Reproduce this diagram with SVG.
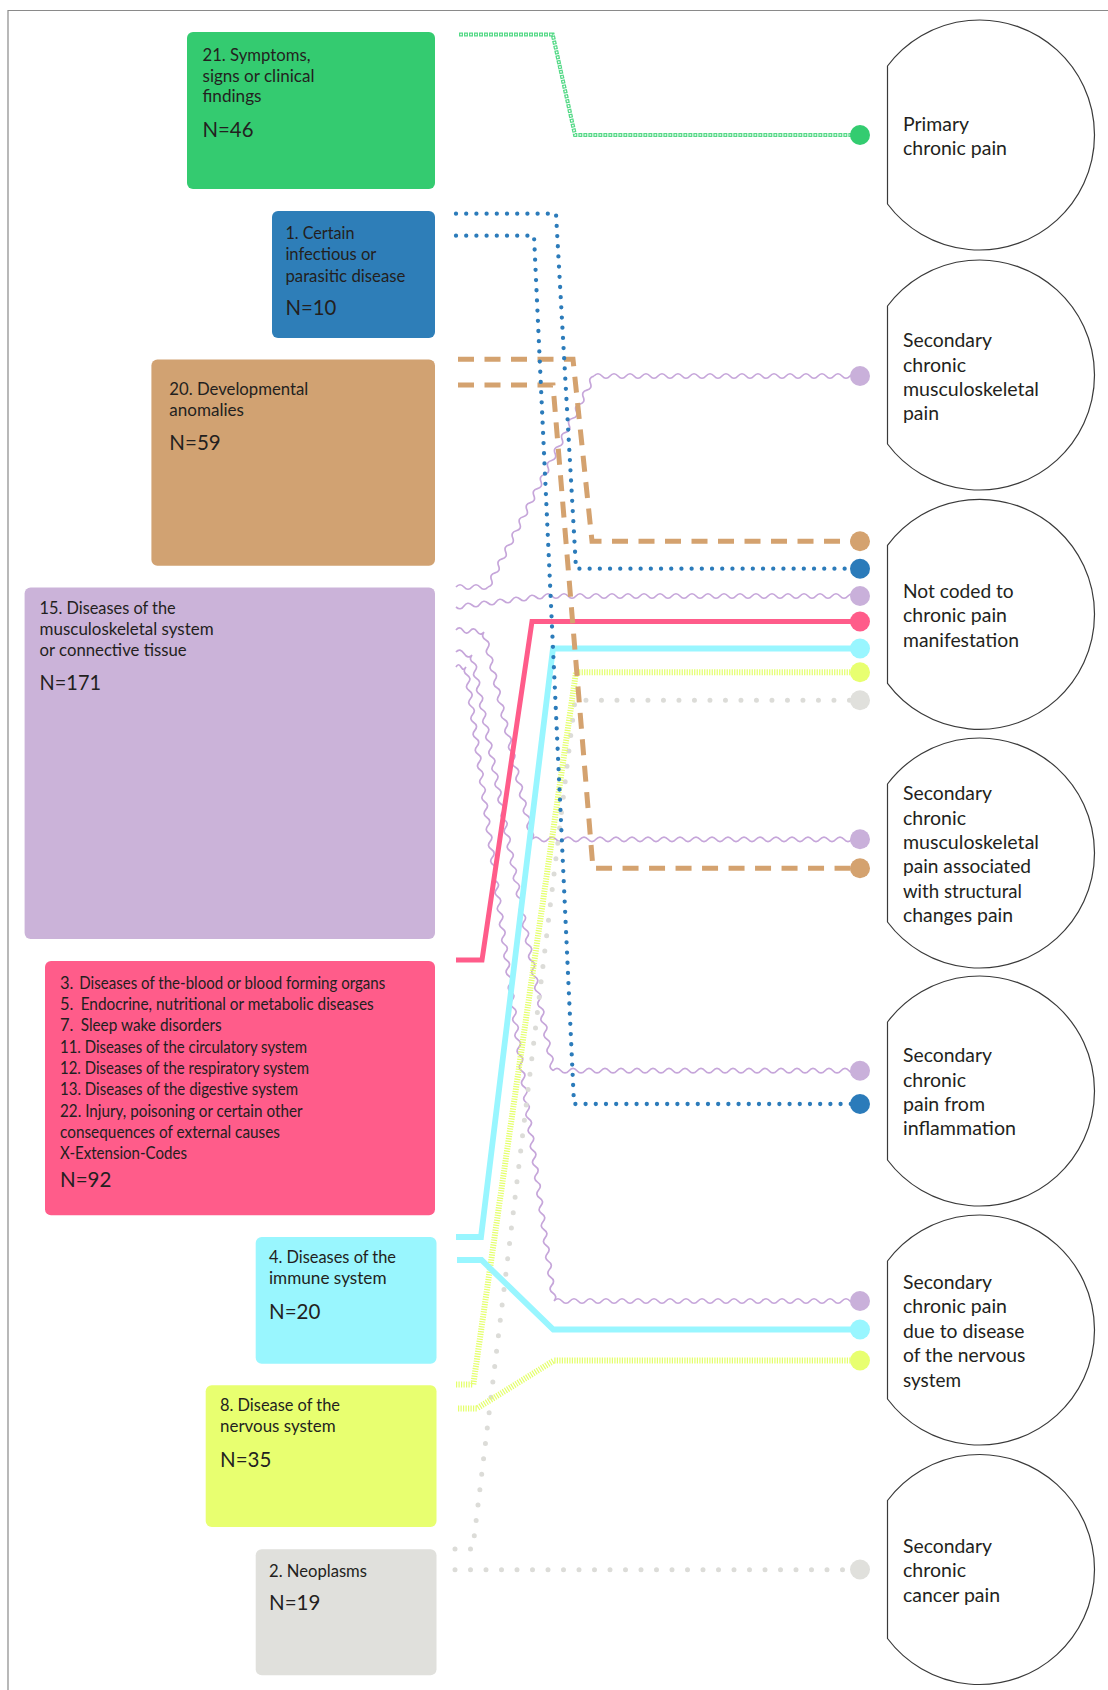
<svg xmlns="http://www.w3.org/2000/svg" width="1108" height="1690" viewBox="0 0 1108 1690">
<style>
.t{font-family:Lato,'Liberation Sans',sans-serif;font-size:17px;fill:#231f20}
.n{font-size:21px}
.r{font-size:16.5px}
.ct{font-size:18.5px}
.circ{fill:#fff;stroke:#3a3a3a;stroke-width:1.2}
.wave{fill:none;stroke:#c6a6da;stroke-width:1.7}
.dot{stroke:none}
</style>
<defs>
<path id="gl" d="M459,34.5H552.7L575,135H858"/>
</defs>
<rect width="1108" height="1690" fill="#fff"/>
<path d="M8,1690V10.5H1108" fill="none" stroke="#8a8a8a" stroke-width="1.2"/>

<g id="n21"><rect x="187" y="32" width="248" height="157" rx="6" fill="#34cb70"/>
<text class="t" x="202.5" y="60.7" textLength="108" lengthAdjust="spacingAndGlyphs">21. Symptoms,</text>
<text class="t" x="202.5" y="81.7" textLength="112" lengthAdjust="spacingAndGlyphs">signs or clinical</text>
<text class="t" x="202.5" y="102.3" textLength="59" lengthAdjust="spacingAndGlyphs">findings</text>
<text class="t n" x="202.5" y="136.7" textLength="51" lengthAdjust="spacingAndGlyphs">N=46</text></g>

<g id="n1"><rect x="272" y="211" width="163" height="127" rx="6" fill="#2e7eb8"/>
<text class="t" x="285.4" y="239" textLength="69" lengthAdjust="spacingAndGlyphs">1. Certain</text>
<text class="t" x="285.4" y="260" textLength="91" lengthAdjust="spacingAndGlyphs">infectious or</text>
<text class="t" x="285.4" y="281.7" textLength="120" lengthAdjust="spacingAndGlyphs">parasitic disease</text>
<text class="t n" x="285.4" y="315" textLength="51" lengthAdjust="spacingAndGlyphs">N=10</text></g>

<g id="n20"><rect x="151.4" y="359.5" width="283.6" height="206.3" rx="6" fill="#d1a272"/>
<text class="t" x="169.3" y="394.7" textLength="139" lengthAdjust="spacingAndGlyphs">20. Developmental</text>
<text class="t" x="169.3" y="415.8" textLength="74.6" lengthAdjust="spacingAndGlyphs">anomalies</text>
<text class="t n" x="169.3" y="450.2" textLength="51.4" lengthAdjust="spacingAndGlyphs">N=59</text></g>

<g id="n15"><rect x="24.6" y="587.6" width="410.4" height="351.3" rx="6" fill="#cbb3d9"/>
<text class="t" x="39.6" y="613.6" textLength="136" lengthAdjust="spacingAndGlyphs">15. Diseases of the</text>
<text class="t" x="39.6" y="634.7" textLength="174" lengthAdjust="spacingAndGlyphs">musculoskeletal system</text>
<text class="t" x="39.6" y="656" textLength="147" lengthAdjust="spacingAndGlyphs">or connective tissue</text>
<text class="t n" x="39.6" y="690" textLength="61.4" lengthAdjust="spacingAndGlyphs">N=171</text></g>

<g id="nmisc"><rect x="45" y="961" width="390" height="254.3" rx="6" fill="#ff5c8a"/>
<text class="t r" x="60" y="989">3.</text>
<text class="t r" x="79.3" y="989" textLength="306" lengthAdjust="spacingAndGlyphs">Diseases of the-blood or blood forming organs</text>
<text class="t r" x="60" y="1010">5.</text>
<text class="t r" x="80.7" y="1010" textLength="293" lengthAdjust="spacingAndGlyphs">Endocrine, nutritional or metabolic diseases</text>
<text class="t r" x="60" y="1031">7.</text>
<text class="t r" x="80.7" y="1031" textLength="141" lengthAdjust="spacingAndGlyphs">Sleep wake disorders</text>
<text class="t r" x="60" y="1052.7" textLength="247" lengthAdjust="spacingAndGlyphs">11. Diseases of the circulatory system</text>
<text class="t r" x="60" y="1074" textLength="249" lengthAdjust="spacingAndGlyphs">12. Diseases of the respiratory system</text>
<text class="t r" x="60" y="1095" textLength="238" lengthAdjust="spacingAndGlyphs">13. Diseases of the digestive system</text>
<text class="t r" x="60" y="1116.7" textLength="242.5" lengthAdjust="spacingAndGlyphs">22. Injury, poisoning or certain other</text>
<text class="t r" x="60" y="1138" textLength="220" lengthAdjust="spacingAndGlyphs">consequences of external causes</text>
<text class="t r" x="60" y="1159.3" textLength="127" lengthAdjust="spacingAndGlyphs">X-Extension-Codes</text>
<text class="t n" x="60" y="1186.7" textLength="51.4" lengthAdjust="spacingAndGlyphs">N=92</text></g>

<g id="n4"><rect x="255.7" y="1237" width="180.8" height="126.7" rx="6" fill="#99f6fe"/>
<text class="t" x="269" y="1263.3" textLength="127" lengthAdjust="spacingAndGlyphs">4. Diseases of the</text>
<text class="t" x="269" y="1284.3" textLength="117.5" lengthAdjust="spacingAndGlyphs">immune system</text>
<text class="t n" x="269" y="1319" textLength="51.4" lengthAdjust="spacingAndGlyphs">N=20</text></g>

<g id="n8"><rect x="205.7" y="1385.3" width="230.8" height="141.7" rx="6" fill="#e8ff70"/>
<text class="t" x="220" y="1411" textLength="120" lengthAdjust="spacingAndGlyphs">8. Disease of the</text>
<text class="t" x="220" y="1432.3" textLength="115.7" lengthAdjust="spacingAndGlyphs">nervous system</text>
<text class="t n" x="220" y="1466.7" textLength="51.4" lengthAdjust="spacingAndGlyphs">N=35</text></g>

<g id="n2"><rect x="255.7" y="1549.3" width="180.8" height="126" rx="6" fill="#e0e0dc"/>
<text class="t" x="269" y="1576.7" textLength="98" lengthAdjust="spacingAndGlyphs">2. Neoplasms</text>
<text class="t n" x="269" y="1610" textLength="51.4" lengthAdjust="spacingAndGlyphs">N=19</text></g>

<g id="c-primary"><path class="circ" d="M887.5,66A115,115 0 1 1 887.5,204Z"/>
<text class="t ct" x="903" y="131" textLength="66" lengthAdjust="spacingAndGlyphs">Primary</text>
<text class="t ct" x="903" y="155" textLength="104" lengthAdjust="spacingAndGlyphs">chronic pain</text></g>

<g id="c-msk"><path class="circ" d="M887.5,306A115,115 0 1 1 887.5,444Z"/>
<text class="t ct" x="903" y="347" textLength="89" lengthAdjust="spacingAndGlyphs">Secondary</text>
<text class="t ct" x="903" y="371.5" textLength="63" lengthAdjust="spacingAndGlyphs">chronic</text>
<text class="t ct" x="903" y="395.5" textLength="136" lengthAdjust="spacingAndGlyphs">musculoskeletal</text>
<text class="t ct" x="903" y="419.5" textLength="36" lengthAdjust="spacingAndGlyphs">pain</text></g>

<g id="c-notcoded"><path class="circ" d="M887.5,545.3A115,115 0 1 1 887.5,683.3Z"/>
<text class="t ct" x="903" y="597.7" textLength="110.7" lengthAdjust="spacingAndGlyphs">Not coded to</text>
<text class="t ct" x="903" y="622.3" textLength="104" lengthAdjust="spacingAndGlyphs">chronic pain</text>
<text class="t ct" x="903" y="646.7" textLength="116" lengthAdjust="spacingAndGlyphs">manifestation</text></g>

<g id="c-structural"><path class="circ" d="M887.5,784A115,115 0 1 1 887.5,922Z"/>
<text class="t ct" x="903" y="800" textLength="89" lengthAdjust="spacingAndGlyphs">Secondary</text>
<text class="t ct" x="903" y="824.7" textLength="63" lengthAdjust="spacingAndGlyphs">chronic</text>
<text class="t ct" x="903" y="849" textLength="136" lengthAdjust="spacingAndGlyphs">musculoskeletal</text>
<text class="t ct" x="903" y="873.3" textLength="128" lengthAdjust="spacingAndGlyphs">pain associated</text>
<text class="t ct" x="903" y="898" textLength="119" lengthAdjust="spacingAndGlyphs">with structural</text>
<text class="t ct" x="903" y="922.3" textLength="110" lengthAdjust="spacingAndGlyphs">changes pain</text></g>

<g id="c-inflammation"><path class="circ" d="M887.5,1022A115,115 0 1 1 887.5,1160Z"/>
<text class="t ct" x="903" y="1061.7" textLength="89" lengthAdjust="spacingAndGlyphs">Secondary</text>
<text class="t ct" x="903" y="1086.7" textLength="63" lengthAdjust="spacingAndGlyphs">chronic</text>
<text class="t ct" x="903" y="1110.7" textLength="82" lengthAdjust="spacingAndGlyphs">pain from</text>
<text class="t ct" x="903" y="1135" textLength="113" lengthAdjust="spacingAndGlyphs">inflammation</text></g>

<g id="c-nervous"><path class="circ" d="M887.5,1261A115,115 0 1 1 887.5,1399Z"/>
<text class="t ct" x="903" y="1289" textLength="89" lengthAdjust="spacingAndGlyphs">Secondary</text>
<text class="t ct" x="903" y="1313.3" textLength="104" lengthAdjust="spacingAndGlyphs">chronic pain</text>
<text class="t ct" x="903" y="1337.7" textLength="121.5" lengthAdjust="spacingAndGlyphs">due to disease</text>
<text class="t ct" x="903" y="1362.3" textLength="122.4" lengthAdjust="spacingAndGlyphs">of the nervous</text>
<text class="t ct" x="903" y="1386.7" textLength="58" lengthAdjust="spacingAndGlyphs">system</text></g>

<g id="c-cancer"><path class="circ" d="M887.5,1500.5A115,115 0 1 1 887.5,1638.5Z"/>
<text class="t ct" x="903" y="1553.3" textLength="89" lengthAdjust="spacingAndGlyphs">Secondary</text>
<text class="t ct" x="903" y="1577.3" textLength="63" lengthAdjust="spacingAndGlyphs">chronic</text>
<text class="t ct" x="903" y="1601.7" textLength="97" lengthAdjust="spacingAndGlyphs">cancer pain</text></g>

<g id="connectors" fill="none">
<g class="wave">
<path d="M456,587 q4,-4.5 8,0 t8,0 t8,0 t8,0
M488,587 q5.79,-1.5 3.53,-7.03
t3.53,-7.03 t3.53,-7.03 t3.53,-7.03 t3.53,-7.03 t3.53,-7.03
t3.53,-7.03 t3.53,-7.03 t3.53,-7.03 t3.53,-7.03 t3.53,-7.03
t3.53,-7.03 t3.53,-7.03 t3.53,-7.03 t3.53,-7.03 t3.53,-7.03
t3.53,-7.03 t3.53,-7.03 t3.53,-7.03 t3.53,-7.03 t3.53,-7.03
t3.53,-7.03 t3.53,-7.03 t3.53,-7.03 t3.53,-7.03 t3.53,-7.03
t3.53,-7.03 t3.53,-7.03 t3.53,-7.03 t3.53,-7.03
M594,376 q4,-4.5 8,0
t8,0 t8,0 t8,0 t8,0 t8,0 t8,0 t8,0 t8,0 t8,0 t8,0
t8,0 t8,0 t8,0 t8,0 t8,0 t8,0 t8,0 t8,0 t8,0 t8,0
t8,0 t8,0 t8,0 t8,0 t8,0 t8,0 t8,0 t8,0 t8,0 t8,0
t8,0 t8,0"/>
<path d="M456,607 q4.56,3.96 8,-1
t8,-1 t8,-1 t8,-1 t8,-1 t8,-1 t8,-1 t8,-1 t8,-1 t8,-1 t8,-1
M544,596 q4,-4.5 8,0
t8,0 t8,0 t8,0 t8,0 t8,0 t8,0 t8,0 t8,0 t8,0 t8,0
t8,0 t8,0 t8,0 t8,0 t8,0 t8,0 t8,0 t8,0 t8,0 t8,0
t8,0 t8,0 t8,0 t8,0 t8,0 t8,0 t8,0 t8,0 t8,0 t8,0
t8,0 t8,0 t8,0 t8,0 t8,0 t8,0 t8,0 t8,0"/>
<path d="M456,630 q3.5,-4.5 7,0.5 t7,0.5 t7,0.5 t7,0.5
M484,632 q-3.46,5 1.85,7.96
t1.85,7.96 t1.85,7.96 t1.85,7.96 t1.85,7.96 t1.85,7.96
t1.85,7.96 t1.85,7.96 t1.85,7.96 t1.85,7.96 t1.85,7.96
t1.85,7.96 t1.85,7.96 t1.85,7.96 t1.85,7.96 t1.85,7.96
t1.85,7.96 t1.85,7.96 t1.85,7.96 t1.85,7.96 t1.85,7.96
t1.85,7.96 t1.85,7.96 t1.85,7.96 t1.85,7.96 t1.85,7.96
M532,839.3 q4,-4.5 8,0
t8,0 t8,0 t8,0 t8,0 t8,0 t8,0 t8,0 t8,0 t8,0 t8,0
t8,0 t8,0 t8,0 t8,0 t8,0 t8,0 t8,0 t8,0 t8,0 t8,0
t8,0 t8,0 t8,0 t8,0 t8,0 t8,0 t8,0 t8,0 t8,0 t8,0
t8,0 t8,0 t8,0 t8,0 t8,0 t8,0 t8,0 t8,0 t8,0"/>
<path d="M456,652 q4,-4.5 8,1.5 t8,1.5
M472,655 q-3.66,4.78 1.53,7.84
t1.53,7.84 t1.53,7.84 t1.53,7.84 t1.53,7.84 t1.53,7.84
t1.53,7.84 t1.53,7.84 t1.53,7.84 t1.53,7.84 t1.53,7.84
t1.53,7.84 t1.53,7.84 t1.53,7.84 t1.53,7.84 t1.53,7.84
t1.53,7.84 t1.53,7.84 t1.53,7.84 t1.53,7.84 t1.53,7.84
t1.53,7.84 t1.53,7.84 t1.53,7.84 t1.53,7.84 t1.53,7.84
t1.53,7.84 t1.53,7.84 t1.53,7.84 t1.53,7.84 t1.53,7.84
t1.53,7.84 t1.53,7.84 t1.53,7.84 t1.53,7.84 t1.53,7.84
t1.53,7.84 t1.53,7.84 t1.53,7.84 t1.53,7.84 t1.53,7.84
t1.53,7.84 t1.53,7.84 t1.53,7.84 t1.53,7.84 t1.53,7.84
t1.53,7.84 t1.53,7.84 t1.53,7.84 t1.53,7.84 t1.53,7.84
t1.53,7.84 t1.53,7.84
M553,1070.7 q4,-4.5 8,0
t8,0 t8,0 t8,0 t8,0 t8,0 t8,0 t8,0 t8,0 t8,0 t8,0
t8,0 t8,0 t8,0 t8,0 t8,0 t8,0 t8,0 t8,0 t8,0 t8,0
t8,0 t8,0 t8,0 t8,0 t8,0 t8,0 t8,0 t8,0 t8,0 t8,0
t8,0 t8,0 t8,0 t8,0 t8,0 t8,0 t8,0"/>
<path d="M456,667 q2.5,-4.5 5,0 t5,0
M466,667 q-3.91,4.58 1.1,7.925
t1.1,7.925 t1.1,7.925 t1.1,7.925 t1.1,7.925 t1.1,7.925
t1.1,7.925 t1.1,7.925 t1.1,7.925 t1.1,7.925 t1.1,7.925
t1.1,7.925 t1.1,7.925 t1.1,7.925 t1.1,7.925 t1.1,7.925
t1.1,7.925 t1.1,7.925 t1.1,7.925 t1.1,7.925 t1.1,7.925
t1.1,7.925 t1.1,7.925 t1.1,7.925 t1.1,7.925 t1.1,7.925
t1.1,7.925 t1.1,7.925 t1.1,7.925 t1.1,7.925 t1.1,7.925
t1.1,7.925 t1.1,7.925 t1.1,7.925 t1.1,7.925 t1.1,7.925
t1.1,7.925 t1.1,7.925 t1.1,7.925 t1.1,7.925 t1.1,7.925
t1.1,7.925 t1.1,7.925 t1.1,7.925 t1.1,7.925 t1.1,7.925
t1.1,7.925 t1.1,7.925 t1.1,7.925 t1.1,7.925 t1.1,7.925
t1.1,7.925 t1.1,7.925 t1.1,7.925 t1.1,7.925 t1.1,7.925
t1.1,7.925 t1.1,7.925 t1.1,7.925 t1.1,7.925 t1.1,7.925
t1.1,7.925 t1.1,7.925 t1.1,7.925 t1.1,7.925 t1.1,7.925
t1.1,7.925 t1.1,7.925 t1.1,7.925 t1.1,7.925 t1.1,7.925
t1.1,7.925 t1.1,7.925 t1.1,7.925 t1.1,7.925 t1.1,7.925
t1.1,7.925 t1.1,7.925 t1.1,7.925 t1.1,7.925
M554,1301 q4,-4.5 8,0
t8,0 t8,0 t8,0 t8,0 t8,0 t8,0 t8,0 t8,0 t8,0 t8,0
t8,0 t8,0 t8,0 t8,0 t8,0 t8,0 t8,0 t8,0 t8,0 t8,0
t8,0 t8,0 t8,0 t8,0 t8,0 t8,0 t8,0 t8,0 t8,0 t8,0
t8,0 t8,0 t8,0 t8,0 t8,0 t8,0 t8,0"/>
</g>
<g stroke="#dcdcd8" stroke-width="5" stroke-linecap="round" stroke-dasharray="0 15.5">
<path d="M455,1549H472.7L575,700.3H855"/>
<path d="M455,1569.7H855"/>
</g>
<g stroke="#e4ff6a" stroke-width="6" stroke-dasharray="1.2 1.3">
<path d="M456,1384.5H473.3L576,672.3H855"/>
<path d="M458,1408.5H476.7L554,1360.5H855"/>
</g>
<g stroke="#99f6ff" stroke-width="5.8">
<path d="M456,1237H481L553,648.5H855"/>
<path d="M457,1260H481.5L553.3,1329.5H855"/>
</g>
<path d="M456,960H482L532,621.5H855" stroke="#ff5c8a" stroke-width="5"/>
<g stroke="#d4a26f" stroke-width="5" stroke-dasharray="16 10.5">
<path d="M458,359.3H573L592,541.3H852"/>
<path d="M458,385H553L593,868.3H852"/>
</g>
<g stroke="#2b7bba" stroke-width="4.3" stroke-linecap="round" stroke-dasharray="0 10.2">
<path d="M456,213.7H556L576,568.7H856"/>
<path d="M456,235.7H534L574,1104H856"/>
</g>
<use href="#gl" stroke="#55d987" stroke-width="4" stroke-dasharray="4 1"/>
<use href="#gl" stroke="#fff" stroke-width="1.5" stroke-dasharray="1.6 3.4" stroke-dashoffset="-1.2"/>
<g class="dot">
<circle cx="860" cy="135" r="10" fill="#33cc70"/>
<circle cx="860" cy="376" r="10" fill="#c9b0da"/>
<circle cx="860" cy="541.3" r="10" fill="#d4a26f"/>
<circle cx="860" cy="568.7" r="10" fill="#2b7bba"/>
<circle cx="860" cy="596" r="10" fill="#c9b0da"/>
<circle cx="860" cy="621.5" r="10" fill="#ff5c8a"/>
<circle cx="860" cy="648.5" r="10" fill="#99f6ff"/>
<circle cx="860" cy="672.3" r="10" fill="#e8ff70"/>
<circle cx="860" cy="700.3" r="10" fill="#e0e0dc"/>
<circle cx="860" cy="839.3" r="10" fill="#c9b0da"/>
<circle cx="860" cy="868.3" r="10" fill="#d4a26f"/>
<circle cx="860" cy="1070.7" r="10" fill="#c9b0da"/>
<circle cx="860" cy="1104" r="10" fill="#2b7bba"/>
<circle cx="860" cy="1301" r="10" fill="#c9b0da"/>
<circle cx="860" cy="1329.5" r="10" fill="#99f6ff"/>
<circle cx="860" cy="1360.5" r="10" fill="#e8ff70"/>
<circle cx="860" cy="1569.5" r="10" fill="#e0e0dc"/>
</g>
</g>
</svg>
